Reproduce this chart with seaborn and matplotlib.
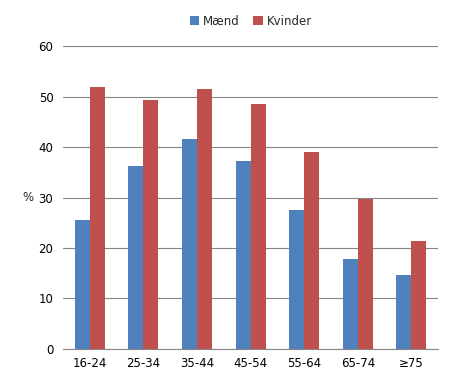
import matplotlib
matplotlib.use('Agg')
import matplotlib.pyplot as plt
import seaborn as sns
import pandas as pd

# age groups and share (%) per gender
groups = ['16-24', '25-34', '35-44', '45-54', '55-64', '65-74', '≥75']
maend = [25.5, 36.2, 41.6, 37.2, 27.5, 17.8, 14.7]
kvinder = [51.9, 49.3, 51.5, 48.5, 39.0, 29.7, 21.4]

df = pd.DataFrame({
    'Alder': groups * 2,
    'Pct': maend + kvinder,
    'Køn': ['Mænd'] * len(groups) + ['Kvinder'] * len(groups),
})

sns.set_style('white')
plt.rcParams['font.family'] = ['DejaVu Sans']

fig = plt.figure(figsize=(4.54, 3.78), dpi=100)
ax = fig.add_axes([0.139, 0.077, 0.826, 0.801])
sns.barplot(data=df, x='Alder', y='Pct', hue='Køn',
            palette={'Mænd': '#4F81BD', 'Kvinder': '#C0504D'},
            width=0.56, saturation=1, linewidth=0, ax=ax, zorder=3)

ax.set_ylim(0, 60)
ax.set_yticks(range(0, 61, 10))
ax.set_xlim(-0.5, 6.5)
ax.grid(axis='y', color='#868686', lw=0.8, zorder=0)
ax.set_axisbelow(True)
for s in ['top', 'right', 'left']:
    ax.spines[s].set_visible(False)
ax.spines['bottom'].set_color('#868686')
ax.tick_params(axis='both', labelsize=8.5, length=0, colors='black')
ax.tick_params(axis='y', pad=7)
ax.tick_params(axis='x', pad=6)
ax.set_xlabel('')
ax.set_ylabel('%', rotation=0, fontsize=8.5, va='center', ha='center')
ax.yaxis.set_label_coords(-0.095, 0.5)

ax.legend(loc='lower center', bbox_to_anchor=(0.5, 1.025), ncol=2, frameon=False,
          fontsize=8.5, handlelength=0.8, handleheight=0.8, handletextpad=0.3,
          columnspacing=1.2)

plt.savefig('out.png', dpi=100)
